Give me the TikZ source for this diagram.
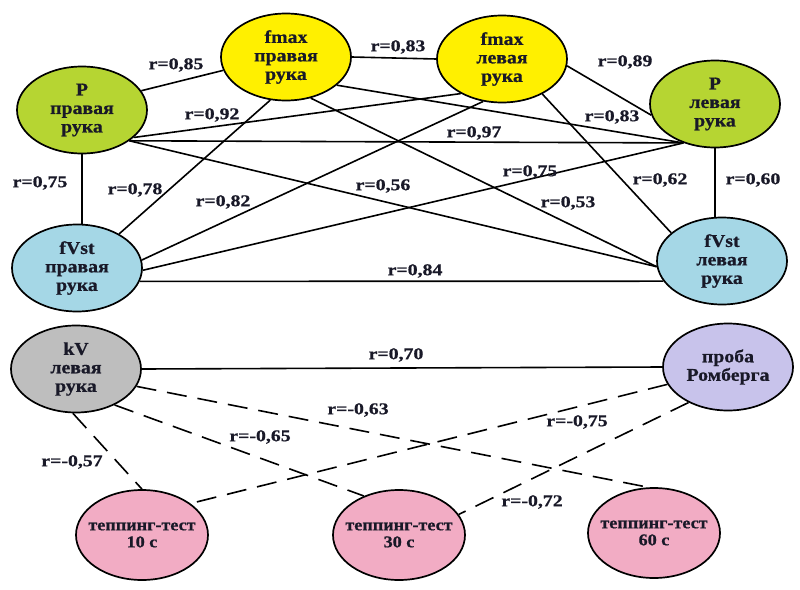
\documentclass[tikz,border=0pt]{standalone}
\usepackage{fontspec}
\setmainfont{Liberation Serif}
\newfontfamily\nodefont{Liberation Serif}[FakeStretch=1.1,FakeBold=0.7]
\newfontfamily\labfont{Liberation Serif}[FakeStretch=1.2,FakeBold=0.7]
\usetikzlibrary{shapes.geometric,backgrounds}
\definecolor{cgreen}{RGB}{182,213,50}
\definecolor{cyellow}{RGB}{255,240,0}
\definecolor{cblue}{RGB}{165,215,230}
\definecolor{cgray}{RGB}{190,190,190}
\definecolor{clav}{RGB}{200,195,235}
\definecolor{cpink}{RGB}{242,172,196}
\definecolor{ctext}{RGB}{25,25,40}
\begin{document}
\begin{tikzpicture}[x=1pt,y=-1pt,
  el/.style={ellipse,draw=black,line width=1.7pt,minimum width=130pt,minimum height=87pt,inner sep=-10pt,align=center,text=ctext,font=\nodefont\bfseries\fontsize{18}{18.5}\selectfont},
  tap/.style={el,fill=cpink,minimum width=132pt,minimum height=90pt,font=\nodefont\bfseries\fontsize{16.5}{17}\selectfont},
  lab/.style={font=\labfont\bfseries\fontsize{16.5}{17}\selectfont,inner sep=0pt,text=ctext},
  con/.style={line width=1.6pt},
  dsh/.style={con,dash pattern=on 20pt off 11pt}]
\useasboundingbox (0,0) rectangle (800,589);
% nodes
\node[el,fill=cgreen]  (pr)  at (82,110)  {P\\правая\\рука};
\node[el,fill=cyellow] (fr)  at (286,57)  {fmax\\правая\\рука};
\node[el,fill=cyellow] (fl)  at (502,59)  {fmax\\левая\\рука};
\node[el,fill=cgreen]  (pl)  at (715,104) {P\\левая\\рука};
\node[el,fill=cblue]   (vr)  at (77,268)  {fVst\\правая\\рука};
\node[el,fill=cblue]   (vl)  at (722,261) {fVst\\левая\\рука};
\node[el,fill=cgray]   (kv)  at (76,369)  {kV\\левая\\рука};
\node[el,fill=clav]    (rom) at (728,367) {проба\\Ромберга};
\node[tap] (t10) at (142,535) {теппинг-тест\\10 с};
\node[tap] (t30) at (399,535) {теппинг-тест\\30 с};
\node[tap] (t60) at (654,533) {теппинг-тест\\60 с};
% connectors
\begin{scope}[on background layer]
\draw[con] (pr.18) -- (fr.192);
\draw[con] (fr.east) -- (fl.west);
\draw[con] (fl.-6) -- (pl.190);
\draw[con] (pr.south) -- (pr.south |- vr.north);
\draw[con] (pl.south) -- (pl.south |- vl.north);
\draw[con] (vr.-12) -- (vl.199.6);
\draw[con] (pr.-33.7) -- (pl.231.7);
\draw[con] (pr.-33.7) -- (vl.185);
\draw[con] (pr.-28) -- (fl.220);
\draw[con] (fr.-29) -- (pl.231.7);
\draw[con] (fr.-59) -- (vl.185);
\draw[con] (fr.250) -- (vr.39);
\draw[con] (fl.246) -- (vr.7);
\draw[con] (fl.-41) -- (vl.151);
\draw[con] (pl.231.7) -- (vr.-2);
\draw[con] (kv.east) -- (rom.west);
\draw[dsh] (kv.266) -- (t10.north);
\draw[dsh] (kv.-43.5) -- (t30.132);
\draw[dsh] (kv.-16) -- (t60.97.6);
\draw[dsh] (rom.196.7) -- (t10.33.4);
\draw[dsh] (rom.222.6) -- (t30.19.8);
\end{scope}
% labels
\node[lab] (l1)  at (176,65)  {r=0,85};
\node[lab] (l2)  at (398,47)  {r=0,83};
\node[lab] (l3)  at (625,62)  {r=0,89};
\node[lab] (l4)  at (212,115) {r=0,92};
\node[lab] (l5)  at (474,133) {r=0,97};
\node[lab] (l6)  at (612,117) {r=0,83};
\node[lab] (l7)  at (40,183)  {r=0,75};
\node[lab] (l8)  at (135,190) {r=0,78};
\node[lab] (l9)  at (223,202) {r=0,82};
\node[lab] (l10) at (383,186) {r=0,56};
\node[lab] (l11) at (530,172) {r=0,75};
\node[lab] (l12) at (660,180) {r=0,62};
\node[lab] (l13) at (753,180) {r=0,60};
\node[lab] (l14) at (568,203) {r=0,53};
\node[lab] (l15) at (415,271) {r=0,84};
\node[lab] (l16) at (396,355) {r=0,70};
\node[lab] (l17) at (358,410) {r=-0,63};
\node[lab] (l18) at (260,437) {r=-0,65};
\node[lab] (l19) at (72,462)  {r=-0,57};
\node[lab] (l20) at (577,422) {r=-0,75};
\node[lab] (l21) at (532,502) {r=-0,72};
\end{tikzpicture}
\end{document}
